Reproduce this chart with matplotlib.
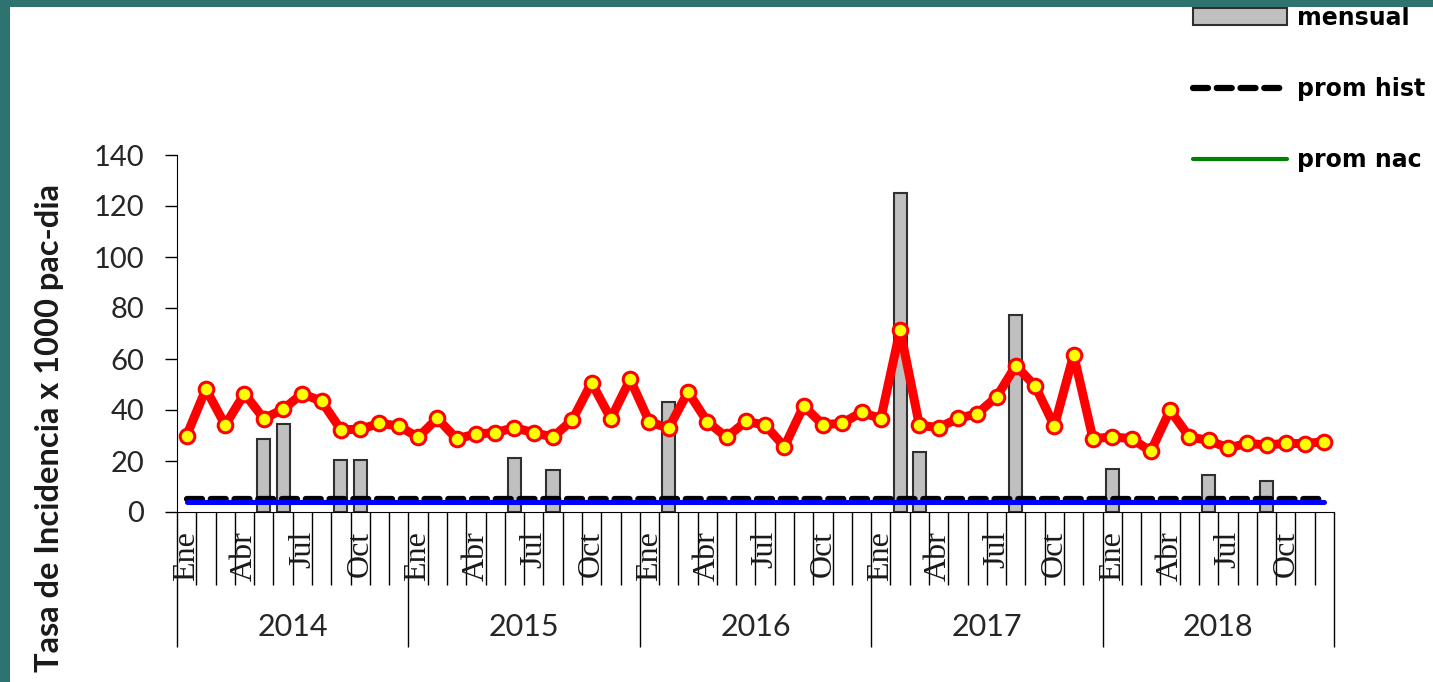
import matplotlib
matplotlib.use("Agg")
import matplotlib.pyplot as plt
import numpy as np
from matplotlib.patches import Rectangle
from matplotlib.transforms import blended_transform_factory

years = ["2014", "2015", "2016", "2017", "2018"]
month_labels = ["Ene", "", "", "Abr", "", "", "Jul", "", "", "Oct", "", ""]

tasa = [
    30.0, 48.2, 34.1, 46.4, 36.6, 40.3, 46.4, 43.4, 32.3, 32.4, 34.8, 33.7,
    29.3, 36.7, 28.7, 30.6, 31.1, 33.1, 31.1, 29.4, 36.1, 50.7, 36.6, 52.0,
    35.3, 32.9, 47.1, 35.4, 29.3, 35.5, 34.1, 25.6, 41.6, 34.2, 34.8, 39.1,
    36.6, 71.4, 34.0, 33.1, 36.7, 38.6, 45.1, 57.4, 49.4, 33.7, 61.7, 28.8,
    29.4, 28.8, 23.8, 39.9, 29.4, 28.1, 25.1, 26.9, 26.3, 26.9, 26.8, 27.6,
]
mensual = [
    0, 0, 0, 0, 28.5, 34.5, 0, 0, 20.5, 20.5, 0, 0,
    0, 0, 0, 0, 0, 21.2, 0, 16.3, 0, 0, 0, 0,
    0, 43.0, 0, 0, 0, 0, 0, 0, 0, 0, 0, 0,
    0, 125.0, 23.5, 0, 0, 0, 0, 77.1, 0, 0, 0, 0,
    16.9, 0, 0, 0, 0, 14.5, 0, 0, 12.1, 0, 0, 0,
]
prom_hist = [5.0] * 60
prom_nac = [4.0] * 60
meta = [4.0] * 60

TEAL = "#2f7371"
W, H = 1433, 682
SANS = ["Lato", "DejaVu Sans"]

fig = plt.figure(figsize=(W / 100, H / 100), dpi=100, facecolor=TEAL)
fig.patches.append(Rectangle((10 / W, 0), 1, (H - 7) / H, transform=fig.transFigure,
                             facecolor="white", edgecolor="none", zorder=-5))

ax = fig.add_axes([177 / W, 1 - 512 / H, 1157 / W, 357 / H])
ax.set_facecolor("none")

x = np.arange(len(tasa))
mens = np.array(mensual, dtype=float)
has_bar = mens > 0
bars = ax.bar(x[has_bar], mens[has_bar], width=0.68, color="#c0c0c0",
              edgecolor="#303030", linewidth=1.5, zorder=2, label="mensual")
nac_line, = ax.plot(x, prom_nac, color="#008000", linewidth=3.0, zorder=3,
                    solid_capstyle="round", label="prom nac")
hist_line, = ax.plot(x, prom_hist, color="black", linewidth=4.5, zorder=3,
                     dashes=(2.4, 1.4), dash_capstyle="round", label="prom hist")
ax.plot(x, meta, color="#0000ff", linewidth=3.6, zorder=4, solid_capstyle="round")
ax.plot(x, tasa, color="red", linewidth=6.5, marker="o", markersize=10.5,
        markerfacecolor="yellow", markeredgecolor="red", markeredgewidth=2.2, zorder=5)

ax.set_xlim(-0.5, len(tasa) - 0.5)
ax.set_ylim(0, 140)
ax.set_yticks(range(0, 141, 20))
ax.tick_params(axis="y", direction="out", length=8.5, width=1, pad=15,
               labelsize=21, labelcolor="#262626")
for lab in ax.get_yticklabels():
    lab.set_family(SANS)
ax.set_xticks([])
for side in ["top", "right"]:
    ax.spines[side].set_visible(False)
ax.spines["left"].set_bounds(0, 140)

# two-level category axis
trans = blended_transform_factory(ax.transData, ax.transAxes)
month_depth = -73 / 357
year_depth = -135 / 357
for k in range(len(tasa) + 1):
    bottom = year_depth if k % 12 == 0 else month_depth
    ax.plot([k - 0.5, k - 0.5], [0, bottom], transform=trans, color="black",
            linewidth=1, clip_on=False, solid_capstyle="butt")
for i in range(len(tasa)):
    label = month_labels[i % 12]
    if label:
        ax.text(i, -19 / 357, label, transform=trans, rotation=90, ha="center", va="top",
                fontsize=23, family="Liberation Serif", color="#1a1a1a")
for j, year in enumerate(years):
    ax.text(j * 12 + 5.5, -115 / 357, year, transform=trans, ha="center", va="center",
            fontsize=22, family=SANS, color="#262626")

fig.text(50 / W, 1 - 428 / H, "Tasa de Incidencia x 1000 pac-dia", rotation=90,
         ha="center", va="center", fontsize=23.5, fontweight="bold",
         family=SANS, color="#1a1a1a")

fig.legend([bars, hist_line, nac_line], ["mensual", "prom hist", "prom nac"],
           loc="upper left", bbox_to_anchor=(1193 / W, 1 - 6 / H), frameon=False,
           borderpad=0, borderaxespad=0, handlelength=4.0, handleheight=0.7,
           handletextpad=0.4, labelspacing=2.0,
           prop={"family": "DejaVu Sans", "weight": "bold", "size": 17})

fig.patches.append(Rectangle((0, (H - 7) / H), 1, 7 / H, transform=fig.transFigure,
                             facecolor=TEAL, edgecolor="none", zorder=20))

fig.savefig("out.png", dpi=100, facecolor=TEAL)
